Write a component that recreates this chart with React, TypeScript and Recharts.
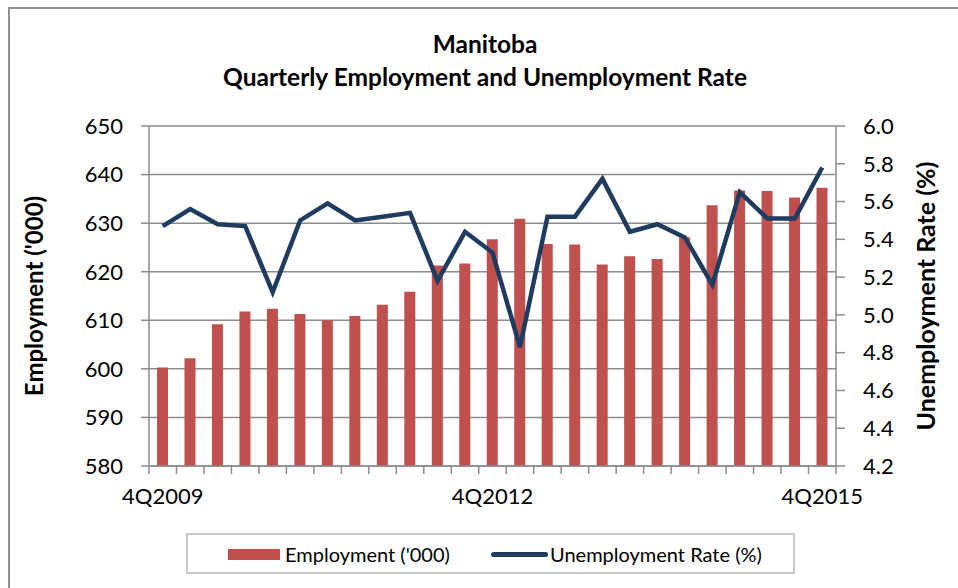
import React from 'react';
import { ComposedChart, Bar, Line, XAxis, YAxis, CartesianGrid } from 'recharts';

const quarters = [
  '4Q2009', '1Q2010', '2Q2010', '3Q2010', '4Q2010', '1Q2011', '2Q2011', '3Q2011', '4Q2011',
  '1Q2012', '2Q2012', '3Q2012', '4Q2012', '1Q2013', '2Q2013', '3Q2013', '4Q2013',
  '1Q2014', '2Q2014', '3Q2014', '4Q2014', '1Q2015', '2Q2015', '3Q2015', '4Q2015',
];
const employment = [
  600.3, 602.2, 609.2, 611.8, 612.4, 611.3, 610.0, 610.9, 613.2, 615.9, 621.3, 621.7, 626.7,
  630.9, 625.7, 625.6, 621.5, 623.2, 622.6, 627.1, 633.7, 636.7, 636.6, 635.3, 637.3,
];
const unemploymentRate = [
  5.47, 5.56, 5.48, 5.47, 5.12, 5.50, 5.59, 5.50, 5.52, 5.54, 5.18, 5.44, 5.33,
  4.83, 5.52, 5.52, 5.72, 5.44, 5.48, 5.41, 5.16, 5.65, 5.51, 5.51, 5.78,
];
const leftTicks = [580, 590, 600, 610, 620, 630, 640, 650];
const rightTicks = [4.2, 4.4, 4.6, 4.8, 5.0, 5.2, 5.4, 5.6, 5.8, 6.0];
const labelledQuarters = ['4Q2009', '4Q2012', '4Q2015'];

const data = quarters.map((q, i) => ({ q, emp: employment[i], rate: unemploymentRate[i] }));

const FONT = 'Lato, "Open Sans", sans-serif';
const GRAY = '#8c8c8c';
const RED = '#c0504d';
const NAVY = '#1f3b5f';
const PLOT_LEFT = 149;
const PLOT_RIGHT = 836;
const BAND = (PLOT_RIGHT - PLOT_LEFT) / quarters.length;

function QuarterTick(props: any) {
  const { x, y, payload, index } = props;
  const show = labelledQuarters.includes(payload.value);
  return (
    <g>
      <line x1={x - BAND / 2} x2={x - BAND / 2} y1={y} y2={y + 8} stroke={GRAY} strokeWidth={1.5} />
      {index === quarters.length - 1 && (
        <line x1={x + BAND / 2} x2={x + BAND / 2} y1={y} y2={y + 8} stroke={GRAY} strokeWidth={1.5} />
      )}
      {show && (
        <text x={x} y={y + 38} textAnchor="middle" fontSize={22} fontFamily={FONT} fill="#000">
          {payload.value}
        </text>
      )}
    </g>
  );
}

function axisTitle(text: string, cx: number, size: number) {
  return ({ viewBox }: any) => {
    const cy = viewBox.y + viewBox.height / 2;
    return (
      <text
        x={cx}
        y={cy}
        transform={`rotate(-90, ${cx}, ${cy})`}
        textAnchor="middle"
        dominantBaseline="central"
        fontSize={size}
        fontWeight="bold"
        fontFamily={FONT}
        fill="#000"
      >
        {text}
      </text>
    );
  };
}

export default function App() {
  return (
    <div style={{ position: 'absolute', left: 0, top: 0, width: 958, height: 588, background: '#fff', overflow: 'hidden', fontFamily: FONT }}>
      <div style={{ position: 'absolute', left: 8, top: 7, width: 980, height: 620, border: '2px solid #8f8f8f' }} />
      <div style={{ position: 'absolute', left: 0, top: 27, width: 970, textAlign: 'center', fontWeight: 'bold', fontSize: 24.5, lineHeight: '33px', color: '#000' }}>
        <div>Manitoba</div>
        <div>Quarterly Employment and Unemployment Rate</div>
      </div>
      <div style={{ position: 'absolute', left: 0, top: 0 }}>
        <ComposedChart width={958} height={588} data={data} margin={{ top: 126, right: 62, bottom: 82, left: 89 }}>
          <CartesianGrid yAxisId="left" horizontal vertical={false} stroke={GRAY} strokeWidth={1.5} />
          <XAxis
            dataKey="q"
            interval={0}
            height={40}
            tickSize={0}
            tickMargin={0}
            tickLine={false}
            axisLine={{ stroke: GRAY, strokeWidth: 1.5 }}
            tick={<QuarterTick />}
          />
          <YAxis
            yAxisId="left"
            width={60}
            domain={[580, 650]}
            ticks={leftTicks}
            tickSize={8}
            tickMargin={18}
            tick={{ fontSize: 22, fontFamily: FONT, fill: '#000' }}
            tickLine={{ stroke: GRAY, strokeWidth: 1.5 }}
            axisLine={{ stroke: GRAY, strokeWidth: 1.5 }}
            label={{ content: axisTitle("Employment ('000)", 33, 24) }}
          />
          <YAxis
            yAxisId="right"
            orientation="right"
            width={60}
            domain={[4.2, 6.0]}
            ticks={rightTicks}
            tickFormatter={(v: number) => v.toFixed(1)}
            tickSize={9}
            tickMargin={18}
            tick={{ fontSize: 22, fontFamily: FONT, fill: '#000' }}
            tickLine={{ stroke: GRAY, strokeWidth: 1.5 }}
            axisLine={{ stroke: GRAY, strokeWidth: 1.5 }}
            label={{ content: axisTitle('Unemployment Rate (%)', 925, 25) }}
          />
          <Bar yAxisId="left" dataKey="emp" fill={RED} barSize={11} isAnimationActive={false} />
          <Line
            yAxisId="right"
            type="linear"
            dataKey="rate"
            stroke={NAVY}
            strokeWidth={4.5}
            dot={false}
            isAnimationActive={false}
          />
        </ComposedChart>
      </div>
      <div style={{ position: 'absolute', left: 186, top: 533, width: 609, height: 41, border: '2px solid #c8c8c8', boxSizing: 'border-box' }}>
        <div style={{ position: 'absolute', left: 40, top: 14, width: 52, height: 11, background: RED }} />
        <div style={{ position: 'absolute', left: 97, top: 4, fontSize: 20, lineHeight: '30px', color: '#000' }}>Employment ('000)</div>
        <div style={{ position: 'absolute', left: 303, top: 17, width: 57, height: 5, borderRadius: 3, background: NAVY }} />
        <div style={{ position: 'absolute', left: 362, top: 4, fontSize: 20, lineHeight: '30px', color: '#000' }}>Unemployment Rate (%)</div>
      </div>
    </div>
  );
}
